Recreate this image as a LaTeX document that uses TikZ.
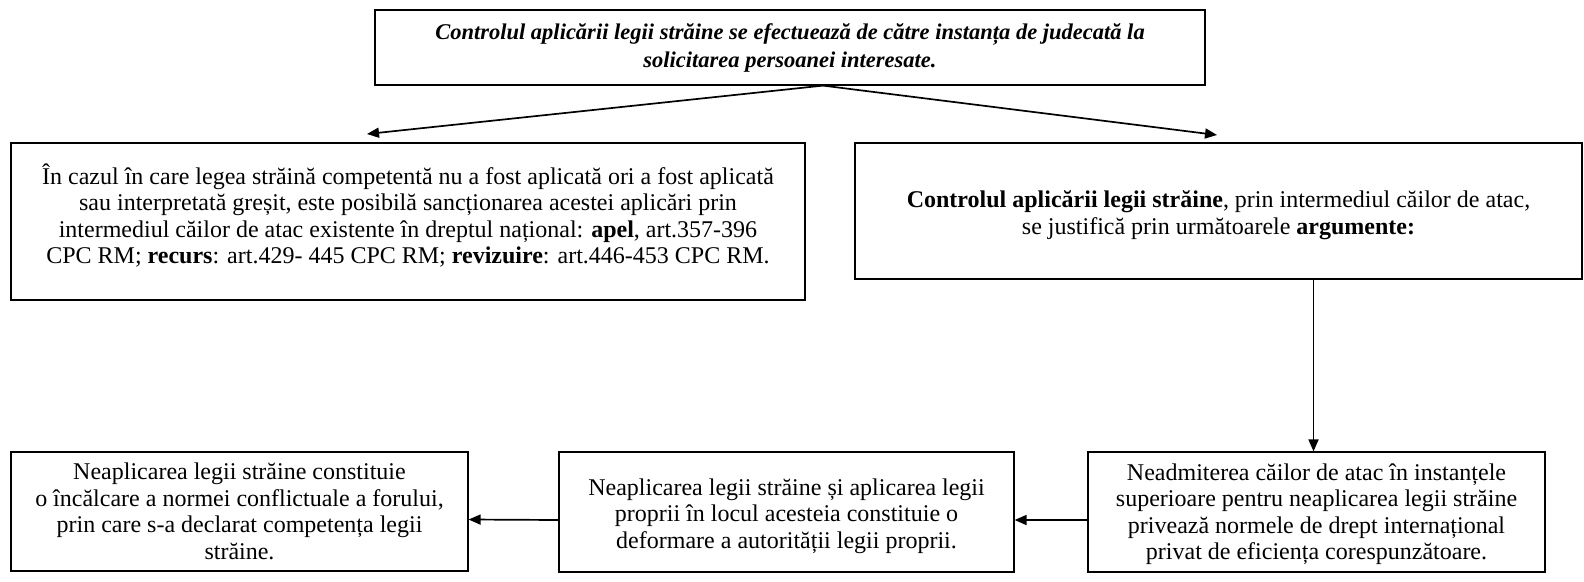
\documentclass[tikz,border=0pt]{standalone}
\usepackage{fontspec}
\setmainfont{Liberation Serif}
\usetikzlibrary{arrows.meta,calc}
\begin{document}
\begin{tikzpicture}[x=1pt,y=-1pt,
  box/.style={draw,line width=1.2pt,inner sep=0pt},
  txt/.style={align=center,inner sep=0pt,font=\fontsize{24}{26.5}\selectfont},
  arr/.style={line width=1.7pt,-{Triangle[length=12pt,width=10pt]}}]
\useasboundingbox (0,0) rectangle (1584,581);
% boxes
\node[box,minimum width=830pt,minimum height=75pt] (top) at (790,47.5) {};
\node[box,minimum width=794pt,minimum height=157pt] (left) at (408,221.5) {};
\node[box,minimum width=727pt,minimum height=136pt] (right) at (1218.5,211) {};
\node[box,minimum width=457pt,minimum height=119pt] (b1) at (239.5,511.5) {};
\node[box,minimum width=455pt,minimum height=120pt] (b2) at (786.5,512) {};
\node[box,minimum width=457pt,minimum height=120pt] (b3) at (1316.5,512) {};
% texts
\node[txt,font=\fontsize{22.5}{28}\selectfont\bfseries\itshape] (topT) at (top)
 {Controlul aplicării legii străine se efectuează de către instanța de judecată la\\ solicitarea persoanei interesate.};
\node[txt] (leftT) at ($(left)+(0,-6)$)
 {În cazul în care legea străină competentă nu a fost aplicată ori a fost aplicată\\
 sau interpretată greșit, este posibilă sancționarea acestei aplicări prin\\
 intermediul căilor de atac existente în dreptul național: \textbf{apel}, art.357-396\\
 CPC RM; \textbf{recurs}: art.429- 445 CPC RM; \textbf{revizuire}: art.446-453 CPC RM.};
\node[txt] (rightT) at ($(right)+(0,4)$)
 {\textbf{Controlul aplicării legii străine}, prin intermediul căilor de atac,\\
 se justifică prin următoarele \textbf{argumente:}};
\node[txt] (b1T) at (b1)
 {Neaplicarea legii străine constituie\\
 o încălcare a normei conflictuale a forului,\\
 prin care s-a declarat competența legii\\
 străine.};
\node[txt] (b2T) at ($(b2)+(0,4)$)
 {Neaplicarea legii străine și aplicarea legii\\
 proprii în locul acesteia constituie o\\
 deformare a autorității legii proprii.};
\node[txt] (b3T) at ($(b3)+(0,2)$)
 {Neadmiterea căilor de atac în instanțele\\
 superioare pentru neaplicarea legii străine\\
 privează normele de drept internațional\\
 privat de eficiența corespunzătoare.};
% connectors
\coordinate (lt) at (367,134);
\coordinate (rt) at (1217,135);
\draw[arr] ($(top.south)+(33,0)$) -- (lt);
\draw[arr] ($(top.south)+(33,0)$) -- (rt);
\draw[arr] ($(right.south -| b3)+(-3,0)$) -- ($(b3.north)+(-3,0)$);
\draw[arr] ([yshift=-8pt]b3.west) -- ([yshift=-8pt]b2.east);
\draw[arr] ([yshift=-8pt]b2.west) -- ([yshift=-8pt]b1.east);
\end{tikzpicture}
\end{document}
